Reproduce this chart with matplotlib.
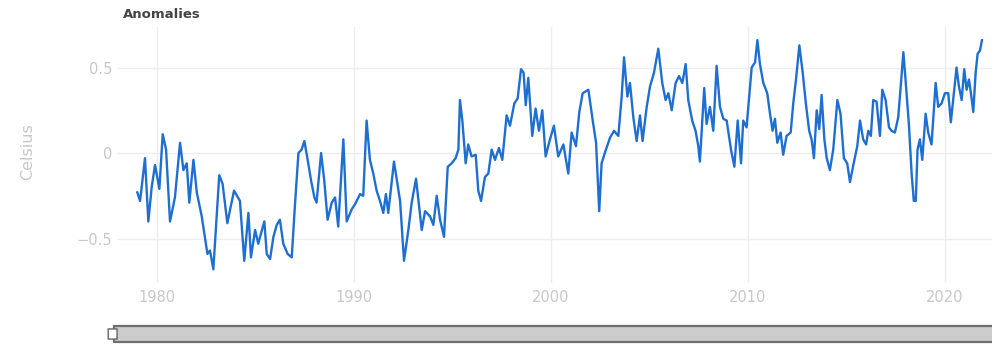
import matplotlib
matplotlib.use('agg')

import matplotlib.pyplot as plt
import matplotlib.patches as pa

# monthly anomaly trace (decimal year, deg C)
years = [
    1979.00, 1979.14, 1979.39, 1979.56, 1979.73, 1979.90, 1980.12, 1980.29, 1980.46, 1980.66,
    1980.91, 1981.17, 1981.34, 1981.51, 1981.64, 1981.85, 1982.02, 1982.27, 1982.56, 1982.69,
    1982.86, 1983.16, 1983.33, 1983.57, 1983.91, 1984.21, 1984.43, 1984.64, 1984.77, 1984.98,
    1985.14, 1985.28, 1985.45, 1985.57, 1985.74, 1985.91, 1986.08, 1986.24, 1986.41, 1986.63,
    1986.84, 1987.00, 1987.18, 1987.34, 1987.48, 1987.65, 1987.82, 1987.99, 1988.10, 1988.33,
    1988.49, 1988.66, 1988.87, 1989.04, 1989.20, 1989.46, 1989.63, 1989.88, 1990.05, 1990.31,
    1990.47, 1990.64, 1990.81, 1990.98, 1991.15, 1991.32, 1991.49, 1991.62, 1991.74, 1992.03,
    1992.34, 1992.54, 1992.76, 1992.93, 1993.15, 1993.44, 1993.61, 1993.86, 1994.03, 1994.20,
    1994.37, 1994.57, 1994.76, 1994.96, 1995.16, 1995.30, 1995.38, 1995.50, 1995.67, 1995.80,
    1995.97, 1996.18, 1996.31, 1996.45, 1996.65, 1996.82, 1996.99, 1997.16, 1997.36, 1997.53,
    1997.75, 1997.92, 1998.14, 1998.31, 1998.48, 1998.61, 1998.72, 1998.85, 1999.05, 1999.22,
    1999.39, 1999.56, 1999.73, 1999.95, 2000.15, 2000.37, 2000.63, 2000.88, 2001.05, 2001.27,
    2001.44, 2001.61, 2001.90, 2002.12, 2002.29, 2002.45, 2002.57, 2002.79, 2003.00, 2003.20,
    2003.42, 2003.59, 2003.71, 2003.88, 2004.01, 2004.18, 2004.35, 2004.52, 2004.65, 2004.86,
    2005.03, 2005.23, 2005.45, 2005.65, 2005.82, 2005.96, 2006.13, 2006.33, 2006.50, 2006.67,
    2006.84, 2006.97, 2007.17, 2007.34, 2007.48, 2007.56, 2007.78, 2007.90, 2008.07, 2008.24,
    2008.41, 2008.58, 2008.75, 2008.92, 2009.14, 2009.31, 2009.48, 2009.65, 2009.76, 2009.93,
    2010.19, 2010.36, 2010.48, 2010.61, 2010.78, 2010.98, 2011.12, 2011.25, 2011.37, 2011.49,
    2011.66, 2011.79, 2011.96, 2012.17, 2012.30, 2012.44, 2012.61, 2012.78, 2012.94, 2013.11,
    2013.23, 2013.35, 2013.49, 2013.62, 2013.74, 2013.88, 2014.00, 2014.16, 2014.33, 2014.54,
    2014.70, 2014.87, 2015.04, 2015.18, 2015.35, 2015.55, 2015.69, 2015.85, 2016.00, 2016.11,
    2016.24, 2016.36, 2016.53, 2016.70, 2016.82, 2016.99, 2017.16, 2017.29, 2017.46, 2017.63,
    2017.77, 2017.89, 2018.00, 2018.17, 2018.31, 2018.42, 2018.52, 2018.61, 2018.73, 2018.85,
    2019.02, 2019.15, 2019.32, 2019.53, 2019.66, 2019.83, 2020.00, 2020.17, 2020.30, 2020.47,
    2020.59, 2020.71, 2020.85, 2020.98, 2021.10, 2021.22, 2021.32, 2021.44, 2021.56, 2021.66,
    2021.78, 2021.88,
]
anomaly = [
    -0.23, -0.28, -0.03, -0.40, -0.20, -0.07, -0.21, 0.11, 0.02, -0.40,
    -0.26, 0.06, -0.10, -0.06, -0.29, -0.04, -0.23, -0.37, -0.59, -0.57,
    -0.68, -0.13, -0.18, -0.41, -0.22, -0.28, -0.63, -0.35, -0.61, -0.45,
    -0.53, -0.47, -0.40, -0.59, -0.62, -0.49, -0.42, -0.39, -0.53, -0.59,
    -0.61, -0.31, 0.00, 0.02, 0.07, -0.04, -0.16, -0.26, -0.29, 0.00,
    -0.16, -0.39, -0.29, -0.26, -0.43, 0.08, -0.40, -0.33, -0.30, -0.24,
    -0.25, 0.19, -0.04, -0.12, -0.22, -0.28, -0.35, -0.24, -0.35, -0.05,
    -0.28, -0.63, -0.45, -0.29, -0.15, -0.45, -0.34, -0.37, -0.42, -0.25,
    -0.39, -0.49, -0.08, -0.06, -0.03, 0.02, 0.31, 0.19, -0.06, 0.05,
    -0.02, -0.01, -0.22, -0.28, -0.14, -0.12, 0.02, -0.04, 0.03, -0.04,
    0.22, 0.16, 0.29, 0.32, 0.49, 0.47, 0.28, 0.44, 0.10, 0.26,
    0.13, 0.25, -0.02, 0.08, 0.16, -0.02, 0.05, -0.12, 0.12, 0.04,
    0.24, 0.35, 0.37, 0.19, 0.06, -0.34, -0.06, 0.02, 0.09, 0.13,
    0.10, 0.33, 0.56, 0.33, 0.41, 0.21, 0.07, 0.22, 0.07, 0.27,
    0.39, 0.47, 0.61, 0.41, 0.31, 0.35, 0.25, 0.41, 0.45, 0.41,
    0.52, 0.31, 0.19, 0.13, 0.04, -0.05, 0.38, 0.17, 0.27, 0.13,
    0.51, 0.27, 0.20, 0.19, 0.02, -0.08, 0.19, -0.06, 0.19, 0.15,
    0.50, 0.53, 0.66, 0.52, 0.41, 0.35, 0.23, 0.13, 0.20, 0.06,
    0.12, -0.01, 0.10, 0.12, 0.29, 0.43, 0.63, 0.47, 0.29, 0.13,
    0.08, -0.03, 0.25, 0.14, 0.34, 0.08, -0.03, -0.10, 0.02, 0.31,
    0.23, -0.03, -0.06, -0.17, -0.07, 0.04, 0.19, 0.08, 0.05, 0.13,
    0.10, 0.31, 0.30, 0.10, 0.37, 0.31, 0.15, 0.13, 0.12, 0.21,
    0.41, 0.59, 0.43, 0.17, -0.12, -0.28, -0.28, 0.02, 0.08, -0.04,
    0.23, 0.12, 0.05, 0.41, 0.27, 0.29, 0.35, 0.35, 0.18, 0.37,
    0.50, 0.39, 0.31, 0.49, 0.37, 0.43, 0.35, 0.24, 0.47, 0.58,
    0.60, 0.66,
]
xticks = [1980, 1990, 2000, 2010, 2020]
yticks = [-0.5, 0, 0.5]
ytick_labels = ['\u22120.5', '0', '0.5']

W, H = 992, 346
fig = plt.figure(figsize=(W / 100., H / 100.), dpi=100)

# plot area in pixels: x 118..992, y 27..283
ax = fig.add_axes([118. / W, 1 - 283. / H, 874. / W, 256. / H], frameon=False)
ax.plot(years, anomaly, color='#1f6fd0', lw=1.7, solid_joinstyle='round')
ax.set_xlim(1978.02, 2022.39)
ax.set_ylim(-0.76, 0.737)

ax.set_xticks(xticks)
ax.set_yticks(yticks)
ax.set_yticklabels(ytick_labels)
ax.tick_params(length=0, colors='#c8c8c8', labelsize=10.5, pad=5)
ax.tick_params(axis='y', pad=4)
ax.grid(True, color='#eeeeee', lw=1)
ax.set_axisbelow(True)

fig.text(28. / W, 1 - 152. / H, 'Celsius', rotation=90, ha='center', va='center',
         color='#c8c8c8', size=11.5)
fig.text(123. / W, 1 - 15. / H, 'Anomalies', ha='left', va='center',
         color='#444444', size=9.5, weight='bold')

# range slider strip under the chart
sl = fig.add_axes([110. / W, 1 - 343. / H, (W - 110.) / W, 18. / H],
                  frameon=False, xticks=[], yticks=[])
sl.set_xlim(0, 1)
sl.set_ylim(0, 1)
sl.add_patch(pa.Rectangle((0.005, 0.08), 1.2, 0.84, fc='#cccccc', ec='#6f6f6f',
                          lw=1.6, clip_on=False))
sl.add_patch(pa.FancyBboxPatch((0.0, 0.22), 0.006, 0.56,
                               boxstyle='round,pad=0.002,rounding_size=0.003',
                               fc='white', ec='#666666', lw=1, clip_on=False))

fig.savefig('out.png', dpi=100)
